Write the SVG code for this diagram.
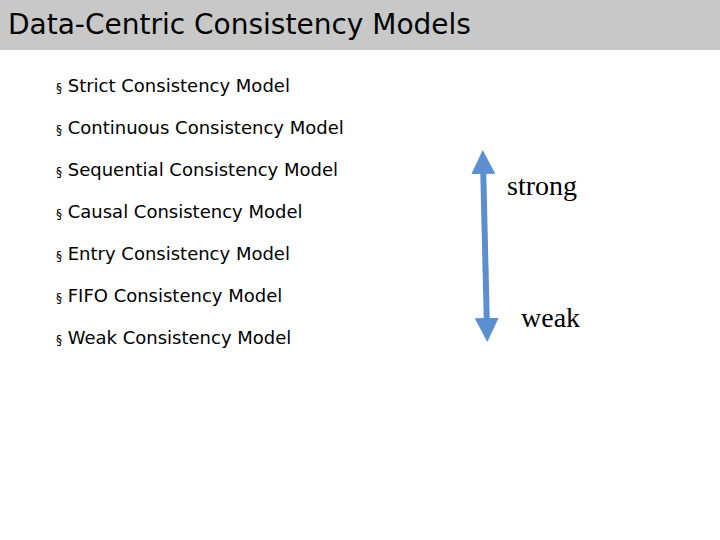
<svg xmlns="http://www.w3.org/2000/svg" width="720" height="540" viewBox="0 0 720 540">
<style>
.b{font-family:"DejaVu Sans",sans-serif;font-size:18px;fill:#000}
.s{font-family:"Liberation Serif",serif;font-size:28px;fill:#000}
</style>
<defs>
<marker id="ah" viewBox="0 0 10 10" refX="5" refY="5" markerWidth="4" markerHeight="4" orient="auto-start-reverse" markerUnits="strokeWidth">
<path d="M0,0 L10,5 L0,10 Z" fill="#5b8fcf"/>
</marker>
</defs>
<rect width="720" height="540" fill="#fff"/>
<rect x="0" y="0" width="720" height="50" fill="#c8c8c8"/>
<text x="8" y="34" font-family="DejaVu Sans,sans-serif" font-size="28" fill="#000">Data-Centric Consistency Models</text>
<g id="items">
<text class="b" x="56" y="92"><tspan font-size="12">§</tspan> Strict Consistency Model</text>
<text class="b" x="56" y="134"><tspan font-size="12">§</tspan> Continuous Consistency Model</text>
<text class="b" x="56" y="176"><tspan font-size="12">§</tspan> Sequential Consistency Model</text>
<text class="b" x="56" y="218"><tspan font-size="12">§</tspan> Causal Consistency Model</text>
<text class="b" x="56" y="260"><tspan font-size="12">§</tspan> Entry Consistency Model</text>
<text class="b" x="56" y="302"><tspan font-size="12">§</tspan> FIFO Consistency Model</text>
<text class="b" x="56" y="344"><tspan font-size="12">§</tspan> Weak Consistency Model</text>
</g>
<g id="connectors">
<line x1="483" y1="162" x2="487" y2="330" stroke="#5b8fcf" stroke-width="6" marker-start="url(#ah)" marker-end="url(#ah)"/>
</g>
<text class="s" x="507" y="195">strong</text>
<text class="s" x="521" y="327">weak</text>
</svg>
